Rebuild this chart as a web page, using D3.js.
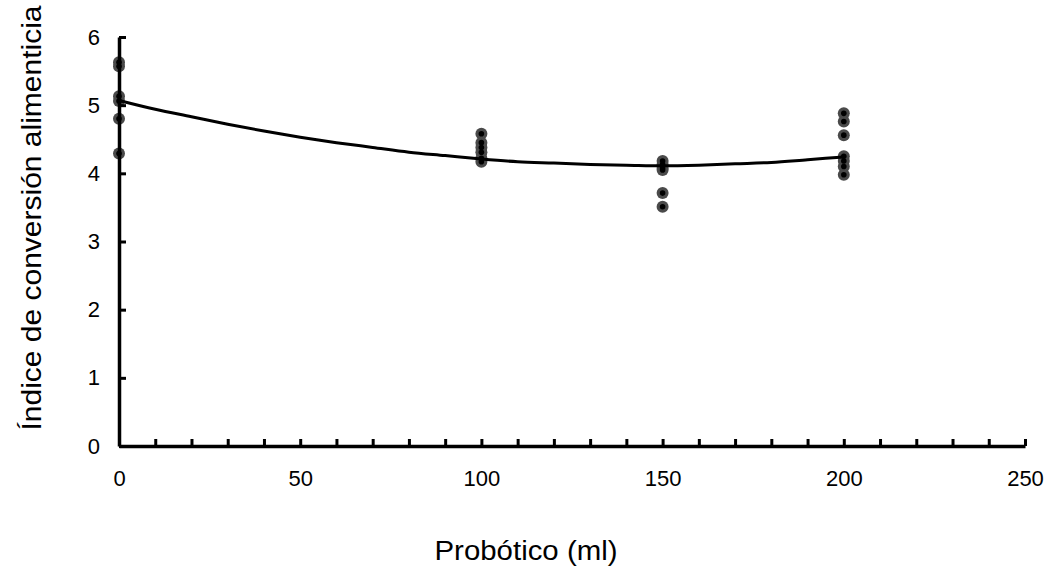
<!DOCTYPE html>
<html>
<head>
<meta charset="utf-8">
<script src="https://cdn.jsdelivr.net/npm/d3@7"></script>
<style>
  body { margin: 0; background: #fff; }
  svg { display: block; }
  svg text { font-family: "Liberation Sans", Arial, sans-serif; fill: #000; }
</style>
</head>
<body>
<div id="chart"></div>
<script>
// ---- data ----
const doses = [0, 100, 150, 200];
const ica0 = [5.63, 5.57, 5.13, 5.06, 4.80, 4.29];
const ica100 = [4.58, 4.45, 4.38, 4.31, 4.22, 4.17];
const ica150 = [4.18, 4.13, 4.08, 4.05, 3.71, 3.51];
const ica200 = [4.88, 4.76, 4.56, 4.25, 4.18, 4.10, 3.98];
const trendX = [0, 10, 20, 30, 40, 50, 60, 70, 80, 90, 100, 110, 120, 130, 140, 150, 160, 170, 180, 190, 200];
const trendY = [5.07, 4.94, 4.83, 4.72, 4.62, 4.53, 4.45, 4.38, 4.31, 4.26, 4.21, 4.17, 4.15, 4.13, 4.12, 4.11, 4.12, 4.14, 4.16, 4.20, 4.24];
const xMajor = [0, 50, 100, 150, 200, 250];
const xMinor = d3.range(0, 251, 10);
const yTicks = [0, 1, 2, 3, 4, 5, 6];

const points = [ica0, ica100, ica150, ica200].flatMap((vals, i) =>
    vals.map(v => ({ x: doses[i], y: v })));

// ---- dimensions ----
const W = 1052, H = 567;
const margin = { top: 37, right: 27, bottom: 121, left: 119 };
const width = W - margin.left - margin.right;
const height = H - margin.top - margin.bottom;

const svg = d3.select('#chart').append('svg')
    .attr('width', W)
    .attr('height', H);

const g = svg.append('g')
    .attr('transform', `translate(${margin.left},${margin.top})`);

const x = d3.scaleLinear().domain([0, 250]).range([0, width]);
const y = d3.scaleLinear().domain([0, 6]).range([height, 0]);

// ---- points (drawn under axes) ----
const pts = g.append('g');
pts.selectAll('circle.outer')
    .data(points)
    .join('circle')
    .attr('class', 'outer')
    .attr('cx', d => x(d.x))
    .attr('cy', d => y(d.y))
    .attr('r', 6)
    .attr('fill', '#4a4a4a');
pts.selectAll('circle.inner')
    .data(points)
    .join('circle')
    .attr('class', 'inner')
    .attr('cx', d => x(d.x))
    .attr('cy', d => y(d.y))
    .attr('r', 2.8)
    .attr('fill', '#000');

// ---- trend line ----
const line = d3.line()
    .x((d, i) => x(trendX[i]))
    .y(d => y(d))
    .curve(d3.curveMonotoneX);

g.append('path')
    .datum(trendY)
    .attr('fill', 'none')
    .attr('stroke', '#000')
    .attr('stroke-width', 3)
    .attr('d', line);

// ---- axes ----
const xMinorAxis = d3.axisBottom(x).tickValues(xMinor).tickSize(-7).tickSizeOuter(0).tickFormat('');
g.append('g')
    .attr('transform', `translate(0,${height})`)
    .call(xMinorAxis)
    .call(a => a.selectAll('line').attr('stroke-width', 3))
    .call(a => a.select('.domain').remove());

const xAxis = d3.axisBottom(x).tickValues(xMajor).tickSize(0).tickPadding(24).tickSizeOuter(0);
g.append('g')
    .attr('transform', `translate(0,${height})`)
    .call(xAxis)
    .call(a => a.select('.domain').attr('stroke-width', 3.5))
    .call(a => a.selectAll('text').style('font-size', '22px').attr('dy', '0.71em'));

const yAxis = d3.axisLeft(y).tickValues(yTicks).tickSize(-7).tickPadding(19)
    .tickSizeOuter(0).tickFormat(d3.format('d'));
g.append('g')
    .call(yAxis)
    .call(a => a.select('.domain').attr('stroke-width', 3.5))
    .call(a => a.selectAll('line').attr('stroke-width', 3))
    .call(a => a.selectAll('text').style('font-size', '22px'));

// ---- axis titles ----
svg.append('text')
    .attr('x', 526)
    .attr('y', 560)
    .attr('text-anchor', 'middle')
    .attr('textLength', 183)
    .attr('lengthAdjust', 'spacingAndGlyphs')
    .style('font-size', '27px')
    .text('Probótico (ml)');

svg.append('text')
    .attr('transform', 'translate(41,218) rotate(-90)')
    .attr('text-anchor', 'middle')
    .attr('textLength', 425)
    .attr('lengthAdjust', 'spacingAndGlyphs')
    .style('font-size', '27px')
    .text('Índice de conversión alimenticia');
</script>
</body>
</html>
